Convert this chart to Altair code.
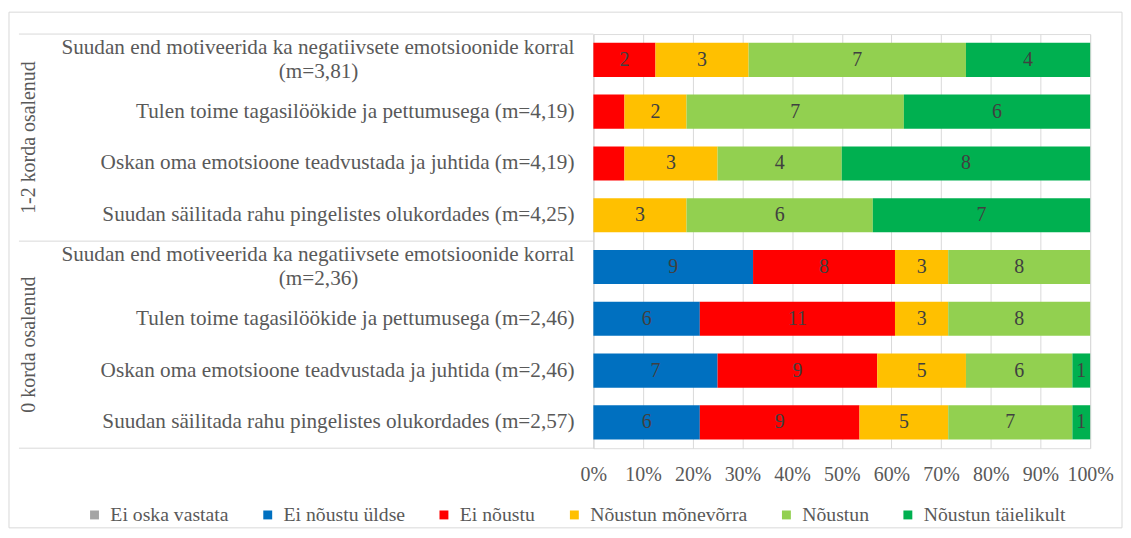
import altair as alt
import pandas as pd

# ---------------- data ----------------
groups = ["1-2 korda osalenud"] * 4 + ["0 korda osalenud"] * 4
statements = [
    "Suudan end motiveerida ka negatiivsete emotsioonide korral",
    "Tulen toime tagasilöökide ja pettumusega",
    "Oskan oma emotsioone teadvustada ja juhtida",
    "Suudan säilitada rahu pingelistes olukordades",
    "Suudan end motiveerida ka negatiivsete emotsioonide korral",
    "Tulen toime tagasilöökide ja pettumusega",
    "Oskan oma emotsioone teadvustada ja juhtida",
    "Suudan säilitada rahu pingelistes olukordades",
]
means = ["3,81", "4,19", "4,19", "4,25", "2,36", "2,46", "2,46", "2,57"]
two_line = [True, False, False, False, True, False, False, False]

responses = ["Ei oska vastata", "Ei nõustu üldse", "Ei nõustu",
             "Nõustun mõnevõrra", "Nõustun", "Nõustun täielikult"]
colors = ["#A5A5A5", "#0070C0", "#FF0000", "#FFC000", "#92D050", "#00B050"]

ei_oska = [0, 0, 0, 0, 0, 0, 0, 0]
ei_noustu_yldse = [0, 0, 0, 0, 9, 6, 7, 6]
ei_noustu = [2, 1, 1, 0, 8, 11, 9, 9]
monevorra = [3, 2, 3, 3, 3, 3, 5, 5]
noustun = [7, 7, 4, 6, 8, 8, 6, 7]
taielikult = [4, 6, 8, 7, 0, 0, 1, 1]
series = [ei_oska, ei_noustu_yldse, ei_noustu, monevorra, noustun, taielikult]

x_ticks = [0, 0.1, 0.2, 0.3, 0.4, 0.5, 0.6, 0.7, 0.8, 0.9, 1.0]

# ---------------- tables ----------------
row_ids = [f"r{i}" for i in range(len(statements))]
long_rows = []
for ri, rid in enumerate(row_ids):
    for k, resp in enumerate(responses):
        long_rows.append({"row": rid, "grp": groups[ri], "resp": resp,
                          "order": k, "n": series[k][ri]})
df = pd.DataFrame(long_rows)

lab = pd.DataFrame({
    "row": row_ids,
    "line1": [s if t else f"{s} (m={m})" for s, m, t in zip(statements, means, two_line)],
    "line2": [f"(m={m})" if t else "" for m, t in zip(means, two_line)],
    "two": two_line,
})

FONT = "Liberation Serif"
GRID = "#D9D9D9"
TXT = "#595959"
LBL = 21.3
W, H = 499, 416

yscale = alt.Scale(domain=row_ids, paddingInner=0.34, paddingOuter=0.17)
xscale = alt.Scale(domain=[0, 1], nice=False)

base = (
    alt.Chart(df)
    .transform_filter("datum.n > 0")
    .transform_joinaggregate(total="sum(n)", groupby=["row"])
    .transform_calculate(pct="datum.n / datum.total")
    .transform_stack(stack="pct", groupby=["row"], sort=[alt.SortField("order")],
                     as_=["x0", "x1"])
    .transform_calculate(mid="(datum.x0 + datum.x1) / 2")
)

bars = base.mark_bar().encode(
    y=alt.Y("row:N", scale=yscale,
            axis=alt.Axis(labels=False, ticks=False, title=None, domain=True,
                          domainColor=GRID, grid=False)),
    x=alt.X("x0:Q", scale=xscale,
            axis=alt.Axis(values=x_ticks, format=".0%", title=None, domain=False,
                          ticks=False, grid=True, gridColor=GRID, labelFont=FONT,
                          labelFontSize=20, labelColor=TXT, labelPadding=16,
                          labelOverlap=False, labelFlush=False)),
    x2="x1:Q",
    color=alt.Color("resp:N",
                    scale=alt.Scale(domain=responses, range=colors),
                    legend=alt.Legend(title=None, orient="none", direction="horizontal",
                                      legendX=-511, legendY=473, padding=0,
                                      symbolType="square", symbolSize=80,
                                      symbolStrokeWidth=0, labelFont=FONT,
                                      labelFontSize=19.8, labelColor=TXT,
                                      columnPadding=29, labelOffset=6)),
)

values = base.transform_filter(
    "datum.n > 1 || datum.grp == '0 korda osalenud'"
).mark_text(font=FONT, fontSize=20, color="#404040", baseline="middle").encode(
    y=alt.Y("row:N", scale=yscale),
    x=alt.X("mid:Q", scale=xscale),
    text=alt.Text("n:Q"),
)

single = alt.Chart(lab).transform_filter("!datum.two").mark_text(
    font=FONT, fontSize=LBL, color=TXT, align="right", baseline="middle"
).encode(y=alt.Y("row:N", scale=yscale), x=alt.value(-19), text="line1:N")

dbl1 = alt.Chart(lab).transform_filter("datum.two").mark_text(
    font=FONT, fontSize=LBL, color=TXT, align="right", baseline="middle", dy=-12
).encode(y=alt.Y("row:N", scale=yscale), x=alt.value(-19), text="line1:N")

dbl2 = alt.Chart(lab).transform_filter("datum.two").mark_text(
    font=FONT, fontSize=LBL, color=TXT, align="center", baseline="middle", dy=12
).encode(y=alt.Y("row:N", scale=yscale), x=alt.value(-276), text="line2:N")

one = pd.DataFrame({"k": [0]})
g1 = alt.Chart(pd.DataFrame({"g": [groups[0]]})).mark_text(
    font=FONT, fontSize=20, color=TXT, angle=270, align="center", baseline="middle"
).encode(x=alt.value(-567), y=alt.value(104), text="g:N")
g2 = alt.Chart(pd.DataFrame({"g": [groups[4]]})).mark_text(
    font=FONT, fontSize=20, color=TXT, angle=270, align="center", baseline="middle"
).encode(x=alt.value(-567), y=alt.value(312), text="g:N")

seps = [
    alt.Chart(one).mark_rule(color=GRID, strokeWidth=1).encode(
        x=alt.value(-577), x2=alt.value(0), y=alt.value(yy))
    for yy in (0, 208, 416)
]

frame = alt.Chart(one).mark_rect(filled=False, stroke=GRID, strokeWidth=1).encode(
    x=alt.value(-587), x2=alt.value(531), y=alt.value(-22), y2=alt.value(496)
)

chart = alt.layer(frame, *seps, bars, values, single, dbl1, dbl2, g1, g2).properties(
    width=W, height=H,
    padding={"left": 0, "top": 2, "right": 0, "bottom": 0},
).configure_view(stroke=None).configure(background="white")

chart.save("out.html", embed_options={"renderer": "svg", "actions": False})
